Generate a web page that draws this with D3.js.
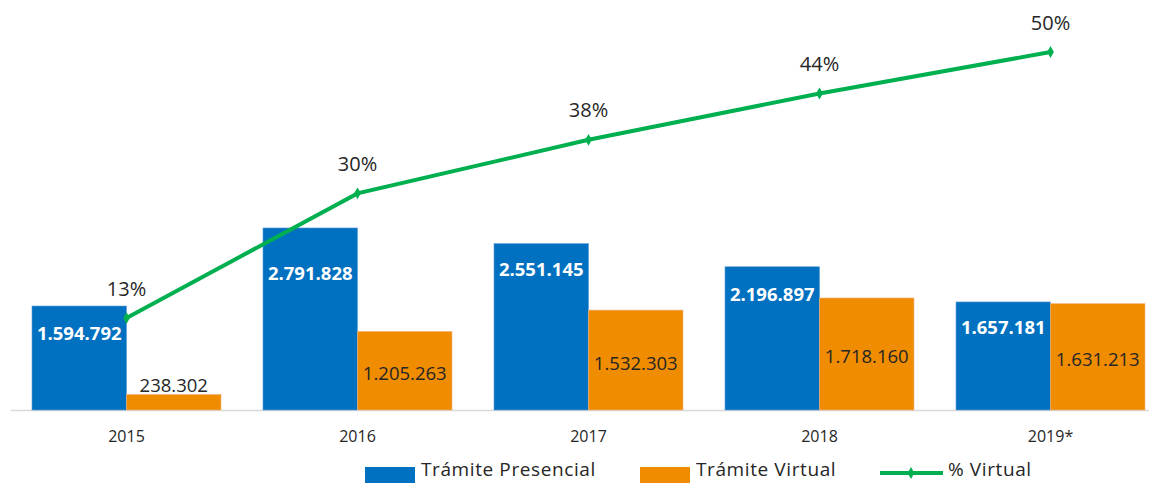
<!DOCTYPE html>
<html>
<head>
<meta charset="utf-8">
<script src="https://cdn.jsdelivr.net/npm/d3@7"></script>
<style>
  body { margin: 0; background: #fff; }
  svg { font-family: "Open Sans", sans-serif; }
</style>
</head>
<body>
<svg id="chart" width="1149" height="483"></svg>
<script>
const years = ['2015', '2016', '2017', '2018', '2019*']
const presencial = [1594792, 2791828, 2551145, 2196897, 1657181]
const virtual = [238302, 1205263, 1532303, 1718160, 1631213]
const pctVirtual = [13.0, 30.15, 37.52, 43.89, 49.6]
const pctLabels = ['13%', '30%', '38%', '44%', '50%']

const fmt = v => d3.format(',')(v).replace(/,/g, '.')

var svg = d3.select('#chart')

const x = d3.scaleBand().domain(years).range([11, 1166]).paddingInner(0).paddingOuter(0)
const inner = 21
const barW = (x.bandwidth() - 2 * inner) / 2

const y = d3.scaleLinear().domain([0, 3000000]).range([410, 214.4])
const y2 = d3.scaleLinear().domain([0, 50]).range([412.5, 49.1])

// baseline
svg.append('line')
  .attr('x1', 11).attr('x2', 1149)
  .attr('y1', 410.5).attr('y2', 410.5)
  .style('stroke', '#d9d9d9')
  .style('stroke-width', 1.5)

// bars
svg.append('g')
  .selectAll('rect')
  .data(presencial)
  .enter()
  .append('rect')
  .attr('x', (d, i) => x(years[i]) + inner)
  .attr('y', d => y(d))
  .attr('width', barW)
  .attr('height', d => y(0) - y(d))
  .style('fill', '#0070c0')
  .style('stroke', '#5b9bd5')
  .style('stroke-width', 0.6)

svg.append('g')
  .selectAll('rect')
  .data(virtual)
  .enter()
  .append('rect')
  .attr('x', (d, i) => x(years[i]) + inner + barW)
  .attr('y', d => y(d))
  .attr('width', barW)
  .attr('height', d => y(0) - y(d))
  .style('fill', '#f08c00')
  .style('stroke', '#f4b183')
  .style('stroke-width', 0.6)

// bar labels (2016 label was moved down, clear of the line)
const blueOffset = [26, 45, 25, 27, 25]
svg.append('g')
  .selectAll('text')
  .data(presencial)
  .enter()
  .append('text')
  .attr('x', (d, i) => x(years[i]) + inner + barW / 2)
  .attr('y', (d, i) => y(d) + blueOffset[i])
  .attr('text-anchor', 'middle')
  .attr('dominant-baseline', 'central')
  .style('fill', '#fff')
  .style('font-weight', 'bold')
  .style('font-size', '18.5px')
  .text(d => fmt(d))

svg.append('g')
  .selectAll('text')
  .data(virtual)
  .enter()
  .append('text')
  .attr('x', (d, i) => x(years[i]) + inner + barW * 1.5)
  .attr('y', (d, i) => i === 0 ? y(d) - 10 : (y(d) + y(0)) / 2 + 2)
  .attr('text-anchor', 'middle')
  .attr('dominant-baseline', 'central')
  .style('fill', '#262626')
  .style('font-size', '18.5px')
  .text(d => fmt(d))

// % virtual line
var line = d3.line()
  .x((d, i) => x(years[i]) + x.bandwidth() / 2)
  .y(d => y2(d))

svg.append('path')
  .datum(pctVirtual)
  .attr('d', line)
  .style('fill', 'none')
  .style('stroke', '#00b050')
  .style('stroke-width', 4)

svg.append('g')
  .selectAll('path')
  .data(pctVirtual)
  .enter()
  .append('path')
  .attr('d', d3.symbol(d3.symbolDiamond, 40))
  .attr('transform', (d, i) => 'translate(' + (x(years[i]) + x.bandwidth() / 2) + ',' + y2(d) + ')')
  .style('fill', '#00b050')

svg.append('g')
  .selectAll('text')
  .data(pctVirtual)
  .enter()
  .append('text')
  .attr('x', (d, i) => x(years[i]) + x.bandwidth() / 2)
  .attr('y', d => y2(d) - 30)
  .attr('text-anchor', 'middle')
  .attr('dominant-baseline', 'central')
  .style('fill', '#262626')
  .style('font-size', '20px')
  .text((d, i) => pctLabels[i])

// x axis labels
svg.append('g')
  .selectAll('text')
  .data(years)
  .enter()
  .append('text')
  .attr('x', d => x(d) + x.bandwidth() / 2)
  .attr('y', 436)
  .attr('text-anchor', 'middle')
  .attr('dominant-baseline', 'central')
  .style('fill', '#262626')
  .style('font-size', '16px')
  .text(d => d)

// legend
var legend = svg.append('g')
const legendItems = [
  { label: 'Trámite Presencial', color: '#0070c0', type: 'rect', x: 365 },
  { label: 'Trámite Virtual', color: '#f08c00', type: 'rect', x: 640 },
  { label: '% Virtual', color: '#00b050', type: 'line', x: 880 }
]
legendItems.forEach(it => {
  if (it.type === 'rect') {
    legend.append('rect')
      .attr('x', it.x).attr('y', 467)
      .attr('width', 50).attr('height', 16)
      .style('fill', it.color)
    legend.append('text')
      .attr('x', it.x + 56).attr('y', 469)
      .attr('dominant-baseline', 'central')
      .style('fill', '#262626')
      .style('font-size', '19px')
      .style('letter-spacing', '0.6px')
      .text(it.label)
  } else {
    legend.append('line')
      .attr('x1', it.x).attr('x2', it.x + 63)
      .attr('y1', 473).attr('y2', 473)
      .style('stroke', it.color)
      .style('stroke-width', 4)
    legend.append('path')
      .attr('d', d3.symbol(d3.symbolDiamond, 40))
      .attr('transform', 'translate(' + (it.x + 31) + ',473)')
      .style('fill', it.color)
    legend.append('text')
      .attr('x', it.x + 68).attr('y', 469)
      .attr('dominant-baseline', 'central')
      .style('fill', '#262626')
      .style('font-size', '19px')
      .style('letter-spacing', '0.6px')
      .text(it.label)
  }
})
</script>
</body>
</html>
